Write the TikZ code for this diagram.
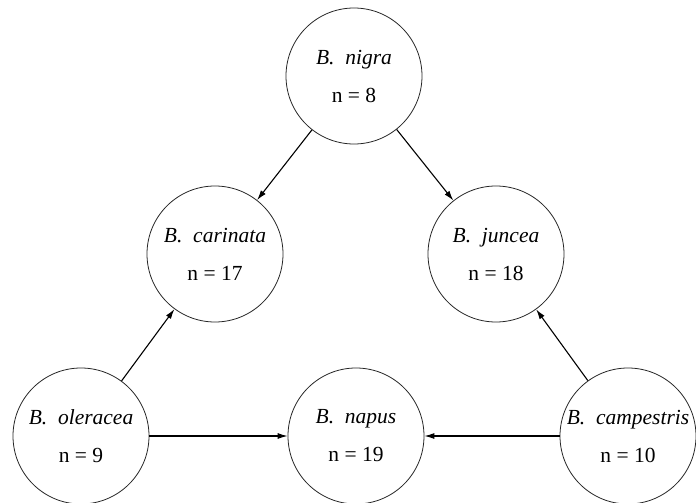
\documentclass[tikz,border=0pt]{standalone}
\usepackage{fontspec}
\setmainfont{Liberation Serif}
\usetikzlibrary{arrows.meta}
\begin{document}
\begin{tikzpicture}[x=1pt,y=-1pt,
  species/.style={circle, draw=black!85, line width=0.8pt, minimum size=136pt,
    inner sep=0pt, align=center, font=\fontsize{21.5}{38}\selectfont},
  cross/.style={draw=black, line width=1.1pt, -{Latex[length=10pt,width=6pt]}}]
  \useasboundingbox (0,0) rectangle (696,503);
  \node[species] (nig) at (354,76)  {\textit{B.~~nigra}\\n = 8};
  \node[species] (car) at (215,254) {\textit{B.~~carinata}\\n = 17};
  \node[species] (jun) at (496,254) {\textit{B.~~juncea}\\n = 18};
  \node[species] (ole) at (81,436)  {\textit{B.~~oleracea}\\n = 9};
  \node[species] (nap) at (356,436) {\textit{B.~~napus}\\n = 19};
  \node[species] (cam) at (628,436) {\textit{B.~~campestris}\\n = 10};
  \draw[cross] (nig) -- (car);
  \draw[cross] (nig) -- (jun);
  \draw[cross] (ole) -- (car);
  \draw[cross] (ole) -- (nap);
  \draw[cross] (cam) -- (nap);
  \draw[cross] (cam) -- (jun);
\end{tikzpicture}
\end{document}
